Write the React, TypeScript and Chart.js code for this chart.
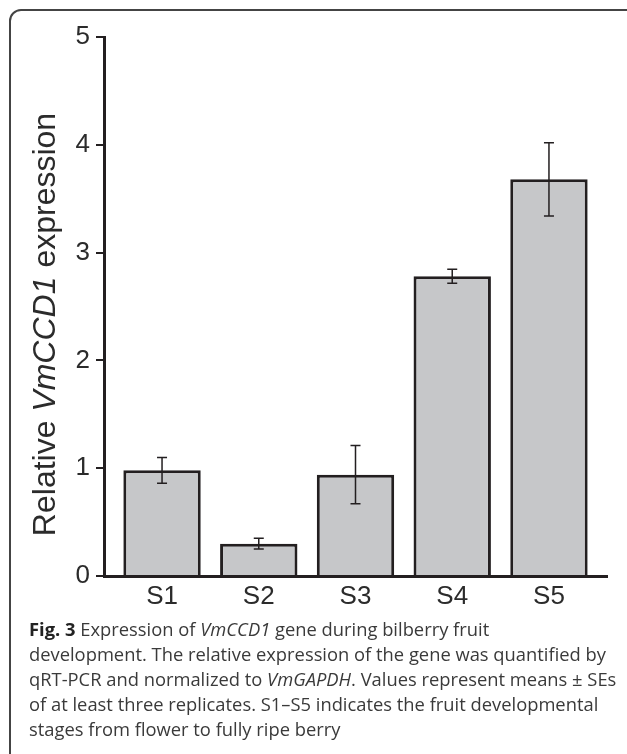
import React, { useEffect, useRef } from 'react';
import { Chart, registerables } from 'chart.js';

Chart.register(...registerables);

const categories = ['S1', 'S2', 'S3', 'S4', 'S5'];
const means = [0.98, 0.3, 0.94, 2.78, 3.68];
const stdErrors = [0.12, 0.05, 0.27, 0.065, 0.34];
const yTickValues = [0, 1, 2, 3, 4, 5];
const yTitleParts = [
  { text: 'Relative ', italic: false },
  { text: 'VmCCD1', italic: true },
  { text: ' expression', italic: false },
];

const AXIS_FONT = '"Liberation Sans", Arial, Helvetica, sans-serif';
const INK = '#231f20';
const TEXT = '#2b2b2b';

export default function App() {
  const ref = useRef<HTMLCanvasElement>(null);

  useEffect(() => {
    if (!ref.current) return;

    const errorBars = {
      id: 'errorBars',
      afterDatasetsDraw(chart: any) {
        const meta = chart.getDatasetMeta(0);
        const y = chart.scales.y;
        const ctx = chart.ctx;
        ctx.save();
        ctx.strokeStyle = INK;
        ctx.lineWidth = 1.5;
        meta.data.forEach((bar: any, i: number) => {
          const x = bar.x;
          const top = y.getPixelForValue(means[i] + stdErrors[i]);
          const bot = y.getPixelForValue(means[i] - stdErrors[i]);
          ctx.beginPath();
          ctx.moveTo(x, top);
          ctx.lineTo(x, bot);
          ctx.moveTo(x - 5, top);
          ctx.lineTo(x + 5, top);
          ctx.moveTo(x - 5, bot);
          ctx.lineTo(x + 5, bot);
          ctx.stroke();
        });
        ctx.restore();
      },
    };

    const yTitle = {
      id: 'yTitle',
      afterDraw(chart: any) {
        const ctx = chart.ctx;
        const area = chart.chartArea;
        const fontN = '32px ' + AXIS_FONT;
        const fontI = 'italic 32px ' + AXIS_FONT;
        ctx.save();
        let total = 0;
        const widths = yTitleParts.map((p) => {
          ctx.font = p.italic ? fontI : fontN;
          const w = ctx.measureText(p.text).width;
          total += w;
          return w;
        });
        const cy = (area.top + area.bottom) / 2 + 18;
        ctx.translate(55, cy);
        ctx.rotate(-Math.PI / 2);
        ctx.textBaseline = 'alphabetic';
        ctx.textAlign = 'left';
        ctx.fillStyle = TEXT;
        let x = -total / 2;
        yTitleParts.forEach((p, i) => {
          ctx.font = p.italic ? fontI : fontN;
          ctx.fillText(p.text, x, 0);
          x += widths[i];
        });
        ctx.restore();
      },
    };

    const chart = new Chart(ref.current, {
      type: 'bar',
      data: {
        datasets: [
          {
            data: means.map((v, i) => ({ x: i, y: v })),
            backgroundColor: '#c6c7c9',
            borderColor: INK,
            borderWidth: 3,
            categoryPercentage: 0.8,
            barPercentage: 1,
          },
        ],
      },
      options: {
        animation: false,
        responsive: false,
        maintainAspectRatio: false,
        layout: { padding: { top: 37, right: 20, left: 0, bottom: 0 } },
        plugins: {
          legend: { display: false },
          tooltip: { enabled: false },
        },
        scales: {
          x: {
            type: 'linear',
            min: -0.6,
            max: 4.6,
            offset: false,
            grace: 0,
            z: 1,
            afterBuildTicks: (s: any) => {
              s.ticks = categories.map((_, i) => ({ value: i }));
            },
            ticks: {
              callback: (v: any) => categories[v] ?? '',
              font: { family: AXIS_FONT, size: 26 },
              color: TEXT,
              padding: 5,
              autoSkip: false,
              maxRotation: 0,
            },
            grid: { display: false, drawTicks: false },
            border: { display: true, width: 3, color: INK },
            afterFit: (s: any) => {
              s.height = 44;
            },
          },
          y: {
            min: 0,
            max: 5,
            z: 1,
            afterBuildTicks: (s: any) => {
              s.ticks = yTickValues.map((v) => ({ value: v }));
            },
            ticks: {
              font: { family: AXIS_FONT, size: 26 },
              color: TEXT,
              padding: 6,
            },
            grid: {
              drawOnChartArea: false,
              drawTicks: true,
              tickLength: 8,
              color: INK,
              lineWidth: 2,
            },
            border: { display: true, width: 3, color: INK },
            afterFit: (s: any) => {
              s.width = 104;
            },
          },
        },
      },
      plugins: [errorBars, yTitle],
    } as any);

    return () => chart.destroy();
  }, []);

  const capFont = '"Open Sans", "Noto Sans", sans-serif';

  return (
    <div
      style={{
        position: 'absolute',
        left: 0,
        top: 0,
        width: 627,
        height: 754,
        overflow: 'hidden',
        background: '#fff',
      }}
    >
      <div
        style={{
          position: 'absolute',
          left: 9,
          top: 9,
          width: 640,
          height: 760,
          border: '2px solid #444',
          borderTopLeftRadius: 12,
        }}
      />
      <canvas
        ref={ref}
        width={627}
        height={620}
        style={{ position: 'absolute', left: 0, top: 0, width: 627, height: 620 }}
      />
      <div
        style={{
          position: 'absolute',
          left: 29,
          top: 616,
          fontFamily: capFont,
          fontSize: 18.35,
          lineHeight: '25px',
          color: '#3a3a3a',
          whiteSpace: 'nowrap',
        }}
      >
        <div>
          <b style={{ color: '#222' }}>Fig. 3</b> Expression of <i>VmCCD1</i> gene during bilberry fruit
        </div>
        <div>development. The relative expression of the gene was quantified by</div>
        <div>
          qRT-PCR and normalized to <i>VmGAPDH</i>. Values represent means ± SEs
        </div>
        <div>of at least three replicates. S1–S5 indicates the fruit developmental</div>
        <div>stages from flower to fully ripe berry</div>
      </div>
    </div>
  );
}
